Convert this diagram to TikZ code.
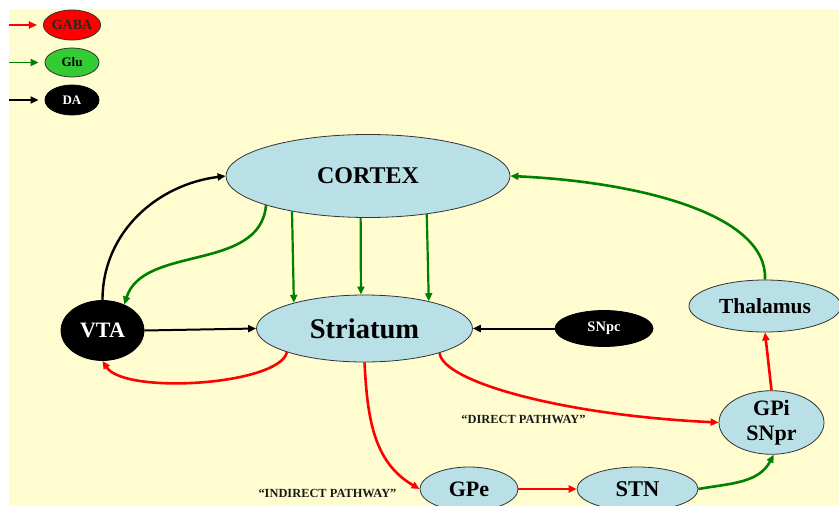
\documentclass[tikz,border=0pt]{standalone}
\usepackage{fontspec}
\setmainfont{Liberation Serif}
\usetikzlibrary{arrows.meta,shapes.geometric}
\definecolor{cream}{HTML}{FFFDD0}
\definecolor{nodeblue}{HTML}{B9E0E6}
\definecolor{gluf}{HTML}{33CC33}
\definecolor{gdark}{HTML}{008000}
\definecolor{rred}{HTML}{FF0000}
\tikzset{
  region/.style={ellipse, draw=black!80, line width=0.8pt, fill=nodeblue, inner sep=0pt, font=\bfseries, text=black},
  blackregion/.style={ellipse, draw=black, line width=0.8pt, fill=black, inner sep=0pt, font=\bfseries, text=white},
  tip/.style={-{Triangle[length=8pt,width=7pt]}},
  gaba/.style={tip, draw=rred, line width=2.6pt},
  glu/.style={tip, draw=gdark, line width=2.6pt},
  dopa/.style={tip, draw=black, line width=2.4pt},
  pathlabel/.style={font=\bfseries\fontsize{12.4}{14}\selectfont, text=black!90, inner sep=0pt},
}
\begin{document}
\begin{tikzpicture}[x=1pt,y=1pt]
\useasboundingbox (0,0) rectangle (839,-506);
\clip (0,0) rectangle (839,-506);
\fill[white] (0,0) rectangle (839,-506);
\fill[cream] (9,-9) rectangle (839,-506);

% legend
\node[ellipse, draw=black!80, line width=0.8pt, fill=rred, minimum width=54pt, minimum height=30pt, inner sep=0pt, font=\bfseries\fontsize{14}{16}\selectfont, text=black!85] (lgaba) at (72,-25) {GABA};
\node[ellipse, draw=black!80, line width=0.8pt, fill=gluf, minimum width=54pt, minimum height=29pt, inner sep=0pt, font=\bfseries\fontsize{13}{15}\selectfont] (lglu) at (72,-62.5) {Glu};
\node[blackregion, minimum width=54pt, minimum height=30pt, font=\bfseries\fontsize{13}{15}\selectfont] (lda) at (72,-100) {DA};
\coordinate (sgaba) at (9,-25);
\coordinate (sglu) at (9,-62.5);
\coordinate (sda) at (9,-100);
\draw[tip, draw=rred, line width=1.8pt, shorten >=6pt] (sgaba) -- (lgaba.west);
\draw[tip, draw=gdark, line width=1.8pt, shorten >=6pt] (sglu) -- (lglu.west);
\draw[tip, draw=black, line width=1.8pt, shorten >=6pt] (sda) -- (lda.west);

% regions
\node[region, minimum width=284pt, minimum height=83pt, font=\bfseries\fontsize{24}{26}\selectfont] (cortex) at (368,-176) {CORTEX};
\node[region, minimum width=216pt, minimum height=67pt, font=\bfseries\fontsize{28.5}{30}\selectfont] (striatum) at (364.5,-328.5) {Striatum};
\node[blackregion, minimum width=83pt, minimum height=60pt, font=\bfseries\fontsize{22}{24}\selectfont] (vta) at (102.5,-330.5) {VTA};
\node[blackregion, minimum width=98pt, minimum height=36pt, font=\bfseries\fontsize{14.5}{16}\selectfont] (snpc) at (604,-328.5) {SNpc};
\node[region, minimum width=152pt, minimum height=52pt, font=\bfseries\fontsize{21.5}{24}\selectfont] (thal) at (765,-306) {Thalamus};
\node[region, minimum width=105pt, minimum height=59pt, align=center, font=\bfseries\fontsize{22}{25}\selectfont] (gpi) at (771.5,-422.5) {GPi\\SNpr};
\node[region, minimum width=98pt, minimum height=44pt, font=\bfseries\fontsize{22}{24}\selectfont] (gpe) at (469,-489) {GPe};
\node[region, minimum width=121pt, minimum height=44pt, font=\bfseries\fontsize{22.5}{24}\selectfont] (stn) at (637.5,-489) {STN};

% labels
\node[pathlabel] (direct) at (523.5,-419.5) {“DIRECT PATHWAY”};
\node[pathlabel] (indirect) at (327.5,-493.5) {“INDIRECT PATHWAY”};

% dopamine
\draw[dopa] (vta.north) to[out=90,in=187] (cortex.west);
\draw[dopa, line width=2pt] (vta.east) -- (striatum.west);
\draw[dopa, line width=2pt] (snpc.west) -- (striatum.east);

% glutamate
\draw[glu] (cortex.196) .. controls +(-6,-67) and +(19,60) .. (vta.50);
\draw[glu, line width=2.2pt] (cortex.205.2) -- (striatum.160.65);
\draw[glu, line width=2.2pt] (cortex.260.4) -- (striatum.96);
\draw[glu, line width=2.2pt] (cortex.327.9) -- (striatum.23.1);
\draw[glu] (thal.north) .. controls +(3,65) and +(130,-6) .. (cortex.east);
\draw[glu] (stn.east) to[out=10,in=-118] (gpi.-86);

% GABA
\draw[gaba] (striatum.197) .. controls +(-8,-33) and +(22,-34) .. (vta.south);
\draw[gaba] (striatum.south) to[out=-87,in=150] (gpe.west);
\draw[gaba] (striatum.342) .. controls +(2,-28) and +(-159,7.5) .. (gpi.west);
\draw[gaba] (gpe.east) -- (stn.west);
\draw[gaba] (gpi.north) -- (thal.south);
\end{tikzpicture}
\end{document}
